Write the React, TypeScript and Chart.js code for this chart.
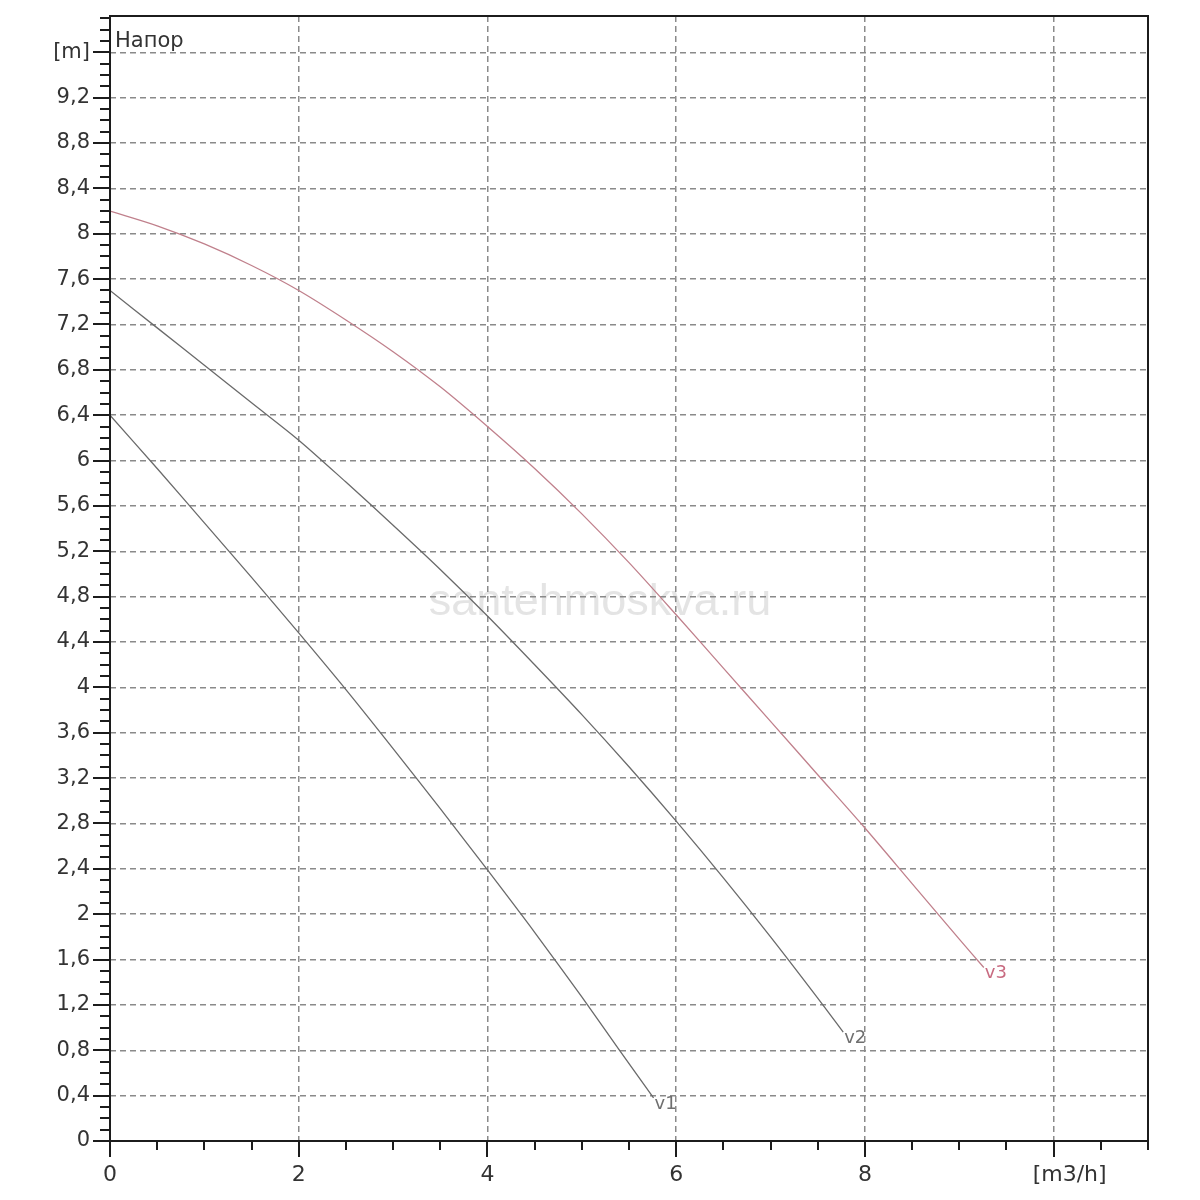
import React, { useEffect, useRef } from 'react';
import { Chart, registerables } from 'chart.js';

Chart.register(...registerables);

// Flow [m3/h] and head [m]
const flowV1 = [0, 0.5, 1, 1.5, 2, 2.5, 3, 3.5, 4, 4.5, 5, 5.4, 5.76];
const headV1 = [6.4, 5.93, 5.45, 4.97, 4.48, 3.98, 3.46, 2.93, 2.39, 1.84, 1.27, 0.8, 0.38];

const flowV2 = [0, 0.5, 1, 1.5, 2, 2.5, 3, 3.5, 4, 4.5, 5, 5.5, 6, 6.5, 7, 7.5, 7.77];
const headV2 = [7.5, 7.17, 6.84, 6.51, 6.18, 5.81, 5.43, 5.04, 4.63, 4.2, 3.76, 3.3, 2.82, 2.32, 1.8, 1.26, 0.96];

const flowV3 = [0, 0.5, 1, 1.5, 2, 2.5, 3, 3.5, 4, 4.5, 5, 5.5, 6, 6.5, 7, 7.5, 8, 8.5, 9, 9.26];
const headV3 = [8.2, 8.07, 7.91, 7.72, 7.5, 7.24, 6.96, 6.65, 6.3, 5.93, 5.53, 5.1, 4.64, 4.17, 3.7, 3.23, 2.76, 2.27, 1.78, 1.53];

const seriesNames = ['v1', 'v2', 'v3'];

const yTickValues = [0, 0.4, 0.8, 1.2, 1.6, 2, 2.4, 2.8, 3.2, 3.6, 4, 4.4, 4.8, 5.2, 5.6, 6, 6.4, 6.8, 7.2, 7.6, 8, 8.4, 8.8, 9.2, 9.6];
const yTickLabels = ['0', '0,4', '0,8', '1,2', '1,6', '2', '2,4', '2,8', '3,2', '3,6', '4', '4,4', '4,8', '5,2', '5,6', '6', '6,4', '6,8', '7,2', '7,6', '8', '8,4', '8,8', '9,2', '[m]'];
const xTickValues = [0, 2, 4, 6, 8, 10];
const xTickLabels = ['0', '2', '4', '6', '8', ''];
const xUnitLabel = '[m3/h]';
const xUnitAt = 10;

const yTitle = 'Напор';
const watermark = 'santehmoskva.ru';

const X_MAX = 11;
const Y_MAX = 9.92;

const FONT = '"DejaVu Sans", "Liberation Sans", Arial, sans-serif';
const lineColors = ['#6a6a6a', '#6a6a6a', '#c0808c'];
const labelColors = ['#6f6f6f', '#6f6f6f', '#c86a80'];

function toPoints(xs: number[], ys: number[]) {
  return xs.map((x, i) => ({ x, y: ys[i] }));
}

const decorPlugin = {
  id: 'decor',
  beforeDraw(chart: any) {
    const { ctx } = chart;
    ctx.save();
    ctx.font = `45px "Liberation Sans", Arial, sans-serif`;
    ctx.fillStyle = 'rgba(205,205,205,0.55)';
    ctx.textAlign = 'center';
    ctx.textBaseline = 'middle';
    ctx.fillText(watermark, 600, 603);
    ctx.restore();
  },
  afterDraw(chart: any) {
    const { ctx, chartArea: a, scales } = chart;
    const xs = scales.x;
    const ys = scales.y;
    ctx.save();
    ctx.strokeStyle = '#1c1c1c';
    ctx.lineWidth = 2;
    ctx.setLineDash([]);
    ctx.strokeRect(a.left, a.top, a.right - a.left, a.bottom - a.top);

    // y tick marks (minor every 0.1, major every 0.4)
    ctx.beginPath();
    for (let i = 0; i / 10 <= ys.max + 1e-9; i++) {
      const py = Math.round(ys.getPixelForValue(i / 10));
      const len = i % 4 === 0 ? 17 : 10;
      ctx.moveTo(a.left - len, py);
      ctx.lineTo(a.left, py);
    }
    // x tick marks (minor every 0.5, major every 2)
    for (let i = 0; i / 2 <= xs.max + 1e-9; i++) {
      const px = Math.round(xs.getPixelForValue(i / 2));
      const len = i % 4 === 0 ? 16 : 9;
      ctx.moveTo(px, a.bottom);
      ctx.lineTo(px, a.bottom + len);
    }
    ctx.stroke();

    // x unit label
    ctx.font = `22px ${FONT}`;
    ctx.fillStyle = '#333';
    ctx.textAlign = 'center';
    ctx.textBaseline = 'middle';
    ctx.fillText(xUnitLabel, xs.getPixelForValue(xUnitAt) + 16, a.bottom + 34);

    // axis title inside chart
    ctx.font = `21px ${FONT}`;
    ctx.textAlign = 'left';
    ctx.textBaseline = 'alphabetic';
    ctx.fillText(yTitle, a.left + 5, a.top + 31);

    // curve end labels
    ctx.font = `18px ${FONT}`;
    ctx.textBaseline = 'top';
    chart.data.datasets.forEach((ds: any, di: number) => {
      const meta = chart.getDatasetMeta(di);
      const last = meta.data[meta.data.length - 1];
      if (!last) return;
      ctx.fillStyle = labelColors[di];
      ctx.fillText(seriesNames[di], last.x + 1, last.y - 3);
    });
    ctx.restore();
  },
};

export default function App() {
  const ref = useRef<HTMLCanvasElement>(null);

  useEffect(() => {
    if (!ref.current) return;
    const datasets = [
      toPoints(flowV1, headV1),
      toPoints(flowV2, headV2),
      toPoints(flowV3, headV3),
    ].map((data, i) => ({
      label: seriesNames[i],
      data,
      borderColor: lineColors[i],
      borderWidth: 1.3,
      pointRadius: 0,
      fill: false,
      tension: 0.3,
    }));

    const chart = new Chart(ref.current, {
      type: 'line',
      data: { datasets },
      plugins: [decorPlugin],
      options: {
        animation: false,
        responsive: false,
        devicePixelRatio: 1,
        layout: { padding: { top: 16, right: 52, left: 0, bottom: 0 } },
        plugins: { legend: { display: false }, tooltip: { enabled: false } },
        scales: {
          x: {
            type: 'linear',
            min: 0,
            max: X_MAX,
            afterBuildTicks: (s: any) => {
              s.ticks = xTickValues.map((v) => ({ value: v }));
            },
            afterFit: (s: any) => {
              s.height = 59;
              s.paddingLeft = 0;
              s.paddingRight = 0;
            },
            ticks: {
              autoSkip: false,
              maxRotation: 0,
              padding: 21,
              color: '#333',
              font: { family: FONT, size: 22 },
              callback: (v: any) => {
                const i = xTickValues.indexOf(Number(v));
                return i >= 0 ? xTickLabels[i] : '';
              },
            },
            grid: { color: '#8a8a8a', lineWidth: 1.5, drawTicks: false },
            border: { display: false, dash: [6, 4] },
          },
          y: {
            type: 'linear',
            min: 0,
            max: Y_MAX,
            afterBuildTicks: (s: any) => {
              s.ticks = yTickValues.map((v) => ({ value: v }));
            },
            afterFit: (s: any) => {
              s.width = 110;
              s.paddingTop = 0;
              s.paddingBottom = 0;
            },
            ticks: {
              autoSkip: false,
              padding: 20,
              color: '#333',
              font: { family: FONT, size: 21 },
              callback: (v: any) => {
                const n = Number(v);
                const i = yTickValues.findIndex((t) => Math.abs(t - n) < 1e-6);
                return i >= 0 ? yTickLabels[i] : '';
              },
            },
            grid: { color: '#8a8a8a', lineWidth: 1.5, drawTicks: false },
            border: { display: false, dash: [6, 4] },
          },
        },
      },
    });
    return () => chart.destroy();
  }, []);

  return (
    <div style={{ position: 'absolute', left: 0, top: 0, width: 1200, height: 1200, background: '#fff' }}>
      <canvas ref={ref} width={1200} height={1200} style={{ width: 1200, height: 1200 }} />
    </div>
  );
}
